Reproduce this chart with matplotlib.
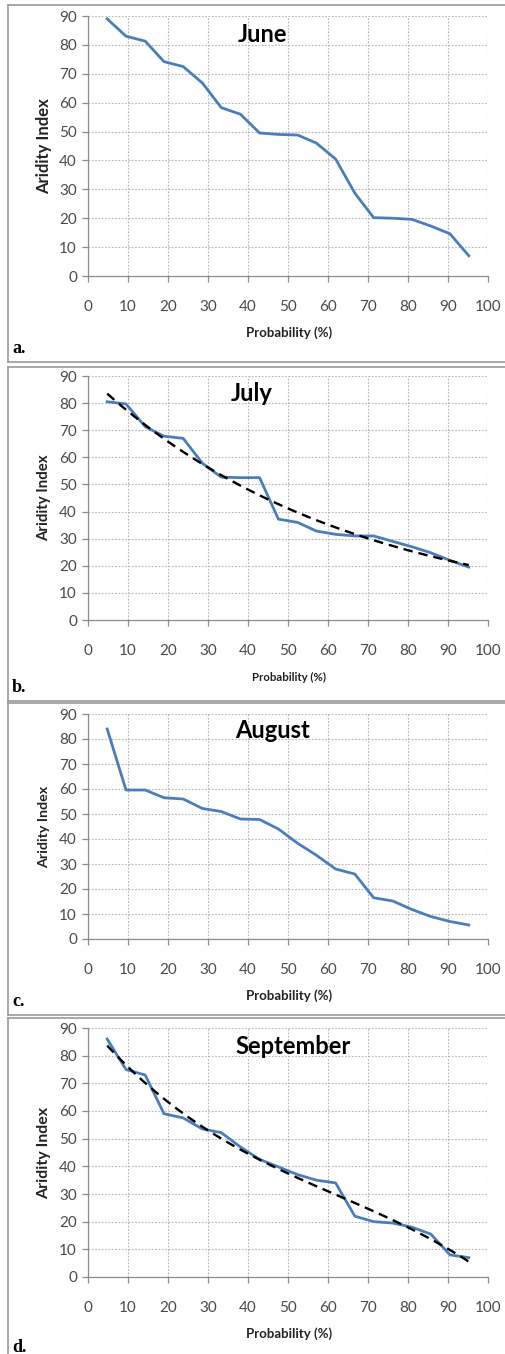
import numpy as np
import matplotlib
matplotlib.use("Agg")
import matplotlib.pyplot as plt
from matplotlib.lines import Line2D

# exceedance probability (%) of the 20 ranked values
prob = [4.8, 9.5, 14.3, 19.0, 23.8, 28.6, 33.3, 38.1, 42.9, 47.6,
        52.4, 57.1, 61.9, 66.7, 71.4, 76.2, 81.0, 85.7, 90.5, 95.2]

june = [89.0, 83.0, 81.3, 74.2, 72.5, 66.8, 58.3, 56.0, 49.5, 49.0,
        48.8, 46.0, 40.5, 28.7, 20.2, 20.0, 19.6, 17.3, 14.6, 7.0]
july = [80.5, 79.7, 71.3, 67.8, 67.0, 57.8, 52.7, 52.5, 52.5, 37.2,
        36.0, 32.8, 31.6, 31.0, 31.0, 29.0, 27.0, 24.8, 22.0, 19.5]
august = [84.0, 59.6, 59.6, 56.5, 56.0, 52.2, 51.0, 48.0, 47.8, 44.0,
          38.3, 33.5, 28.0, 26.0, 16.5, 15.2, 11.8, 9.0, 7.0, 5.6]
september = [86.0, 75.0, 73.0, 59.0, 57.5, 53.5, 52.2, 47.0, 42.5, 39.8,
             37.0, 35.0, 34.0, 22.0, 20.0, 19.5, 18.0, 15.5, 8.0, 7.0]

months = ["June", "July", "August", "September"]
series = [june, july, august, september]
letters = ["a.", "b.", "c.", "d."]
trend = [None, "exp", None, "poly3"]

W, H = 506, 1354
# pixel layout: axes top/bottom, title position, frame top/bottom
axes_px = [(16, 276), (376, 620), (714, 939), (1028, 1277)]
title_px = [(262, 35), (252, 394), (273, 730), (293, 1046)]
frame_px = [(5, 362), (367, 701), (703, 1015), (1018, 1360)]
ylab_size = [12, 10.8, 10.3, 11.5]
xlab_size = [9.5, 8.2, 9.5, 9.5]
left_px, right_px = 88, 488

fig = plt.figure(figsize=(W / 100, H / 100), dpi=100)

def fx(px):
    return px / W

def fy(py):
    return 1 - py / H

blue = "#4a7ebb"
tick_col = "#4a4a4a"

for i in range(4):
    top, bot = axes_px[i]
    ax = fig.add_axes([fx(left_px), fy(bot), fx(right_px - left_px), (bot - top) / H])
    x = np.array(prob)
    y = np.array(series[i])
    ax.plot(x, y, color=blue, lw=2.0, zorder=3, solid_joinstyle="round")
    xx = np.linspace(x[0], x[-1], 100)
    if trend[i] == "exp":
        b, a = np.polyfit(x, np.log(y), 1)
        ax.plot(xx, np.exp(a + b * xx), color="black", lw=1.7, ls=(0, (4, 2.5)), zorder=4)
    elif trend[i] == "poly3":
        c = np.polyfit(x, y, 3)
        ax.plot(xx, np.polyval(c, xx), color="black", lw=1.7, ls=(0, (4, 2.5)), zorder=4)

    ax.set_xlim(0, 100)
    ax.set_ylim(0, 90)
    ax.set_xticks(range(0, 101, 10))
    ax.set_yticks(range(0, 91, 10))
    ax.grid(True, color="#b5b5b5", ls=(0, (1.5, 1.5)), lw=0.8)
    ax.set_axisbelow(True)
    for s in ["top", "right"]:
        ax.spines[s].set_visible(False)
    for s in ["left", "bottom"]:
        ax.spines[s].set_color("#8c8c8c")
        ax.spines[s].set_linewidth(0.9)
    ax.tick_params(axis="x", length=4, width=0.9, color="#8c8c8c", pad=13,
                   labelsize=11, labelcolor=tick_col)
    ax.tick_params(axis="y", length=4, width=0.9, color="#8c8c8c", pad=4,
                   labelsize=11, labelcolor=tick_col)
    for lab in ax.get_xticklabels() + ax.get_yticklabels():
        lab.set_family("Lato")

    tx, ty = title_px[i]
    fig.text(fx(tx), fy(ty), months[i], ha="center", va="center",
             fontsize=17, fontweight="bold", family="Lato", color="black")

    fig.text(fx(289), fy(bot + 57), "Probability (%)", ha="center", va="center",
             fontsize=xlab_size[i], fontweight="bold", family="Lato", color="#222222")
    fig.text(fx(44), fy((top + bot) / 2), "Aridity Index", ha="center", va="center",
             rotation=90, fontsize=ylab_size[i], fontweight="bold", family="Lato",
             color="#222222")

    ft, fb = frame_px[i]
    fig.text(fx(12), fy(fb - 13), letters[i], ha="left", va="center",
             fontsize=13, fontweight="bold", family="Liberation Serif", color="black")

    # panel frame: left, top and bottom edges
    fig.add_artist(Line2D([fx(8), fx(8)], [fy(ft), fy(fb)], color="#9a9a9a", lw=1.2))
    fig.add_artist(Line2D([fx(8), fx(W)], [fy(ft), fy(ft)], color="#9a9a9a", lw=1.2))
    fig.add_artist(Line2D([fx(8), fx(W)], [fy(fb), fy(fb)], color="#9a9a9a", lw=1.2))

fig.savefig("out.png", dpi=100)
